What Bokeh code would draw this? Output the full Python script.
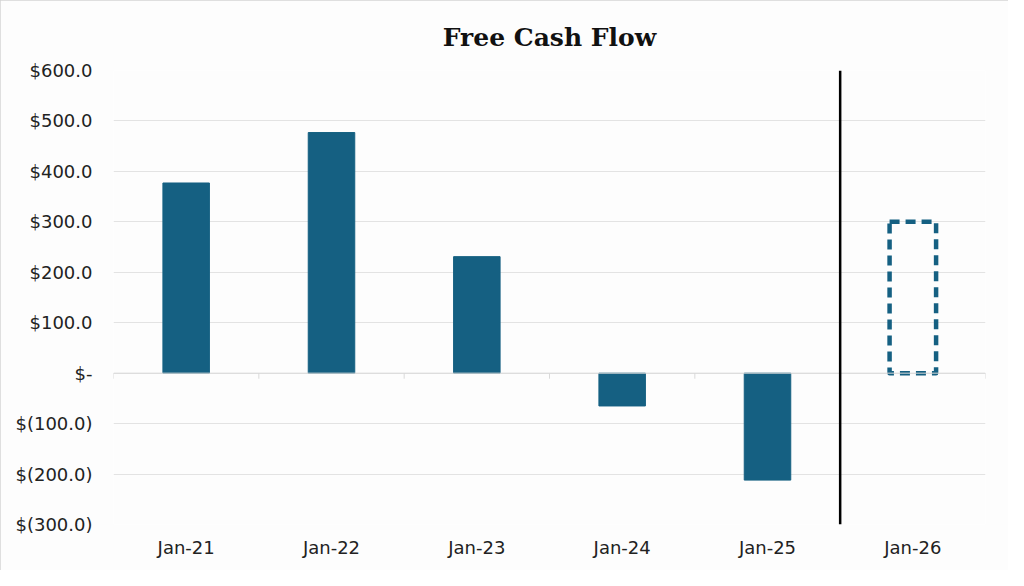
from bokeh.plotting import figure
from bokeh.models import Range1d, FixedTicker, Span, ColumnDataSource
from bokeh.embed import file_html
from bokeh.resources import INLINE

categories = ["Jan-21", "Jan-22", "Jan-23", "Jan-24", "Jan-25", "Jan-26"]
actual_values = [377, 477, 231, -65, -212]
forecast_values = [300]
y_ticks = [-300, -200, -100, 0, 100, 200, 300, 400, 500, 600]
y_tick_labels = ["$(300.0)", "$(200.0)", "$(100.0)", "$-", "$100.0", "$200.0",
                 "$300.0", "$400.0", "$500.0", "$600.0"]

BAR = "#156082"
BG = "#fdfdfd"

n = len(categories)
centers = [i + 0.5 for i in range(n)]
bar_w = 0.32

p = figure(width=1008, height=570, output_backend="svg", toolbar_location=None,
           x_range=Range1d(0, n), y_range=Range1d(-300, 600),
           min_border_left=113, min_border_right=23, min_border_top=70, min_border_bottom=46)
p.styles = {"outline": "1px solid #d4d4d4", "outline-offset": "-1px"}
p.background_fill_color = BG
p.border_fill_color = BG
p.outline_line_color = None

p.title.text = "Free Cash Flow"
p.title.align = "center"
p.title.text_font = "DejaVu Serif"
p.title.text_font_style = "bold"
p.title.text_font_size = "25px"
p.title.text_color = "#111111"
p.title.standoff = 38

# grid
p.xgrid.grid_line_color = None
p.ygrid.grid_line_color = "#e3e3e3"
p.ygrid.grid_line_width = 1

# zero line + category boundary ticks
p.add_layout(Span(location=0, dimension="width", line_color="#d9d9d9", line_width=1))
bounds = list(range(n + 1))
p.segment(x0=bounds, y0=[0] * len(bounds), x1=bounds, y1=[-11] * len(bounds),
          line_color="#d9d9d9", line_width=1)

# actual bars
src = ColumnDataSource(dict(x=centers[:len(actual_values)], top=actual_values))
p.vbar(x="x", width=bar_w, top="top", bottom=0, source=src,
       fill_color=BAR, line_color=BAR)

# forecast dashed bar
fsrc = ColumnDataSource(dict(x=centers[len(actual_values):], top=forecast_values))
p.vbar(x="x", width=bar_w, top="top", bottom=0, source=fsrc,
       fill_color=None, line_color=BAR, line_width=4.5, line_dash="10 6",
       line_join="round")

# divider between actual and forecast
p.add_layout(Span(location=len(actual_values), dimension="height",
                  line_color="#000000", line_width=2.5))

# axes
p.yaxis.ticker = FixedTicker(ticks=y_ticks)
p.yaxis.major_label_overrides = {t: l for t, l in zip(y_ticks, y_tick_labels)}
p.yaxis.axis_line_color = None
p.yaxis.major_tick_line_color = None
p.yaxis.minor_tick_line_color = None
p.yaxis.major_label_standoff = 15
p.yaxis.major_label_text_font = "DejaVu Sans"
p.yaxis.major_label_text_font_size = "18px"
p.yaxis.major_label_text_color = "#222222"

p.xaxis.ticker = FixedTicker(ticks=centers)
p.xaxis.major_label_overrides = {c: l for c, l in zip(centers, categories)}
p.xaxis.axis_line_color = None
p.xaxis.major_tick_line_color = None
p.xaxis.minor_tick_line_color = None
p.xaxis.major_label_standoff = 6
p.xaxis.major_label_text_font = "DejaVu Sans"
p.xaxis.major_label_text_font_size = "18px"
p.xaxis.major_label_text_color = "#222222"

open("out.html", "w").write(file_html(p, INLINE))
